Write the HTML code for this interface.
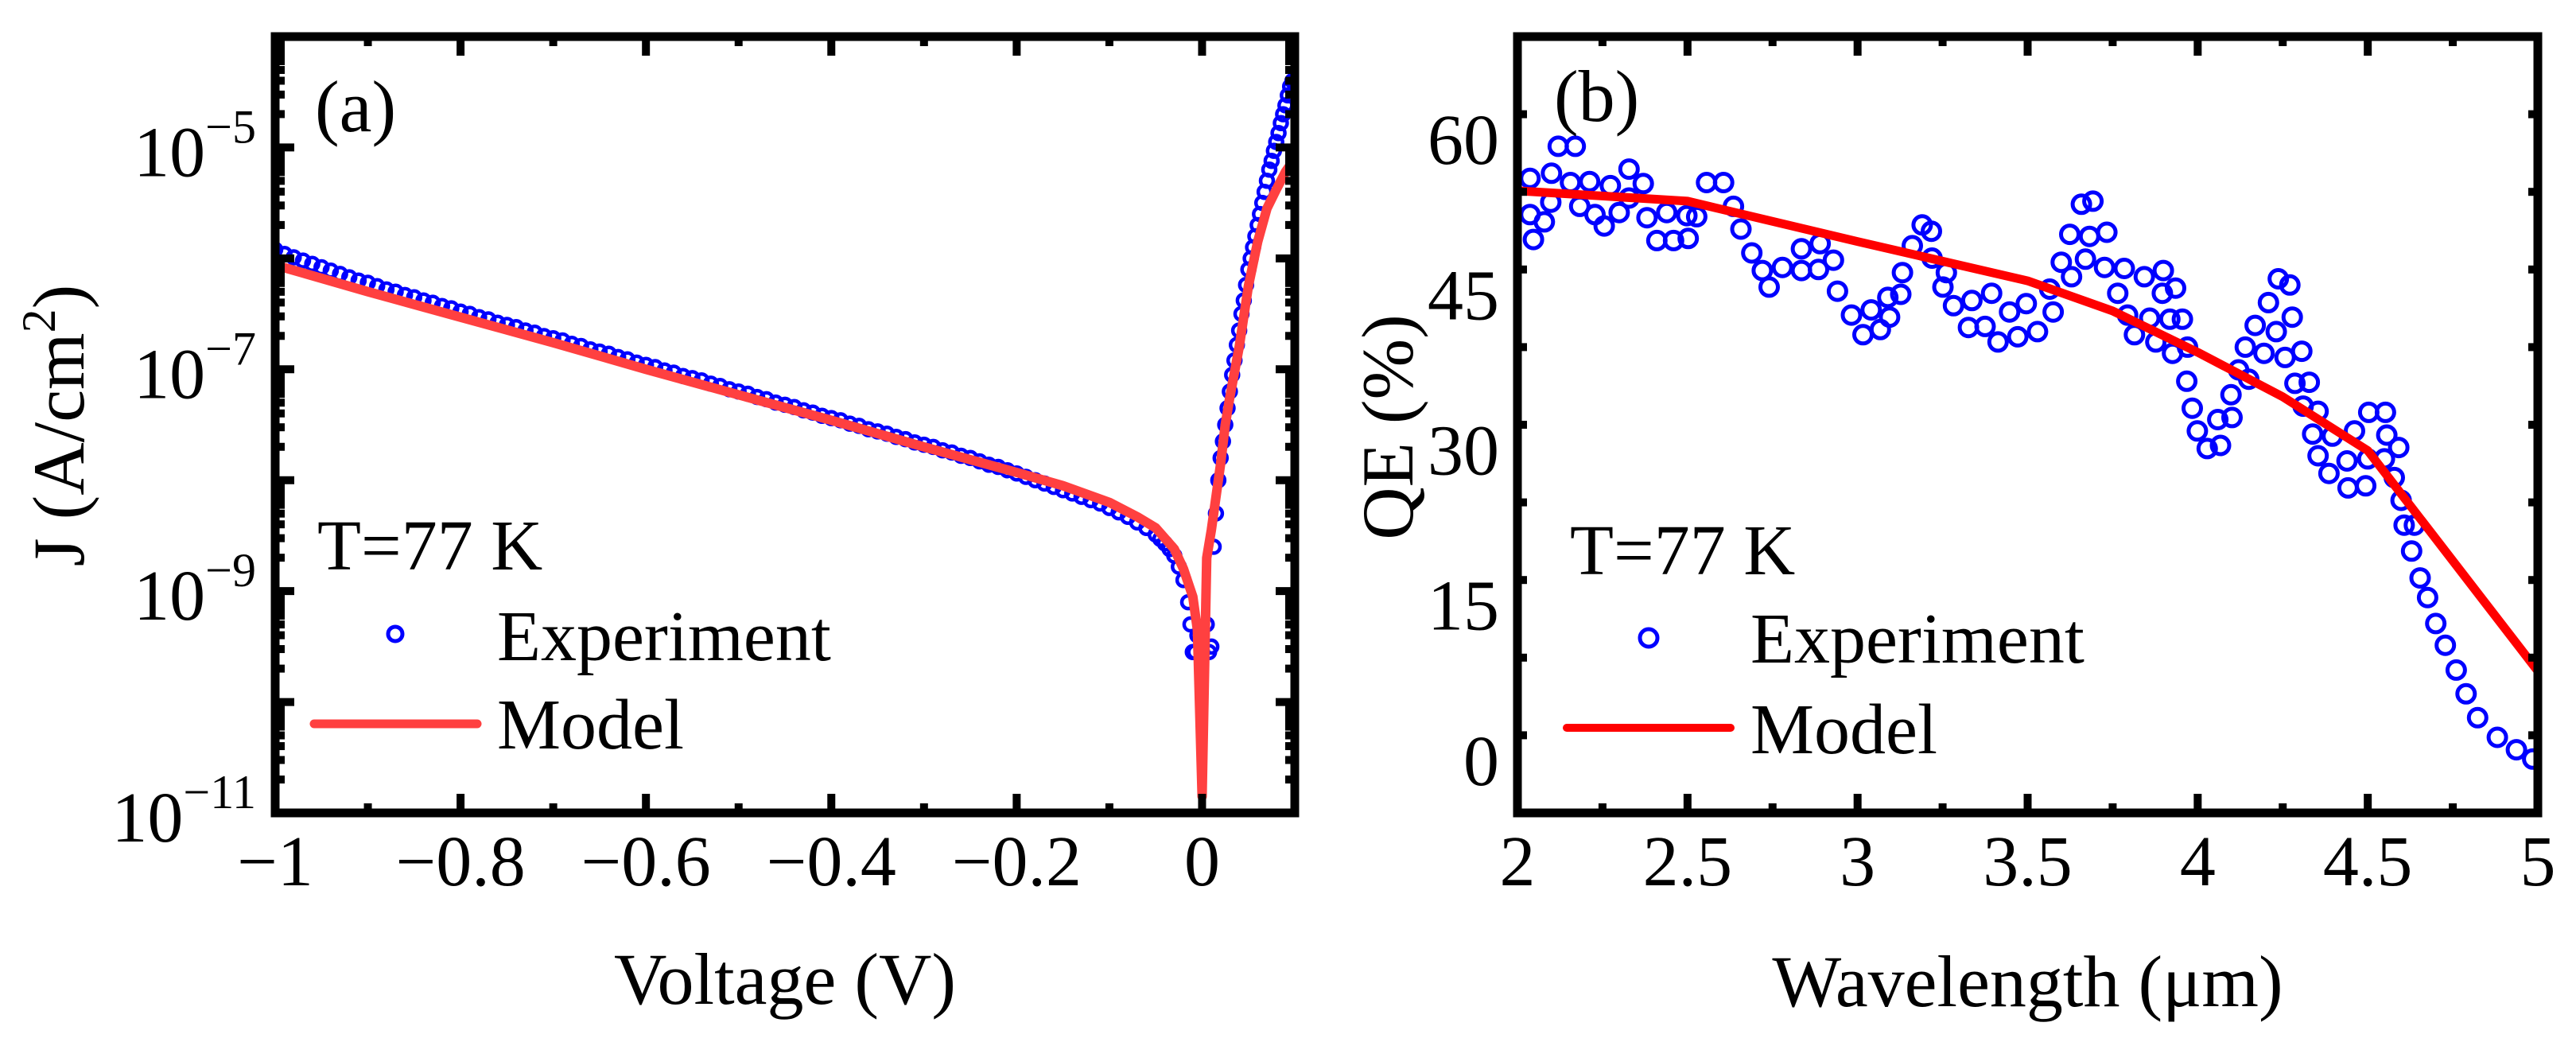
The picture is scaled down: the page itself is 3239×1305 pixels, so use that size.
<!DOCTYPE html>
<html><head><meta charset="utf-8"><style>
html,body{margin:0;padding:0;background:#fff;}
svg{display:block;}
svg text{font-family:"Liberation Serif","Times New Roman","DejaVu Serif",serif;}
</style></head><body>
<svg id="chart" width="3239" height="1305" viewBox="0 0 3239 1305" xmlns="http://www.w3.org/2000/svg" font-family="Liberation Serif, Times New Roman, serif">
<g id="pa"></g>
<g id="pb"></g>
</svg>
<script>
// ---------- Panel (a) data ----------
const aExpVoltStart = -1.0;
const aExpLogJ = [-5.92,-5.96,-5.99,-6.02,-6.05,-6.08,-6.11,-6.14,-6.17,-6.20,-6.22,
-6.25,-6.28,-6.30,-6.33,-6.35,-6.38,-6.40,-6.43,-6.45,-6.48,
-6.50,-6.53,-6.55,-6.58,-6.60,-6.62,-6.65,-6.67,-6.70,-6.72,
-6.74,-6.77,-6.79,-6.82,-6.84,-6.86,-6.89,-6.91,-6.94,-6.96,
-6.98,-7.01,-7.03,-7.06,-7.08,-7.10,-7.13,-7.15,-7.18,-7.20,
-7.22,-7.25,-7.27,-7.30,-7.32,-7.34,-7.37,-7.39,-7.42,-7.44,
-7.46,-7.49,-7.51,-7.54,-7.56,-7.58,-7.61,-7.63,-7.66,-7.68,
-7.70,-7.73,-7.75,-7.78,-7.80,-7.83,-7.86,-7.88,-7.91,-7.94,
-7.97,-8.00,-8.03,-8.06,-8.09,-8.12,-8.15,-8.18,-8.21,-8.25,
-8.29,-8.33,-8.38,-8.43,-8.49,-8.57,-8.68,-8.90,-9.55,-9.55,
-9.50,-7.80,-7.20,-6.65,-6.10,-5.70,-5.30,-4.95,-4.62,-4.40];
const aExtraV = [-0.045,-0.035,-0.025,-0.015,-0.0125,-0.0075,-0.005,0.005,0.0075,0.0125,0.015,0.0175,0.0225,0.025,0.0275,0.0325,0.035,0.0375,0.0425,0.045,0.0475,0.0525,0.055,0.0575,0.0625,0.065,0.0675,0.0725,0.075,0.0775,0.0825,0.085,0.0875,0.0925,0.095,0.0975];
const aExtraLogJ = [-8.53,-8.62,-8.78,-9.1,-9.3,-9.55,-9.4,-9.3,-9.55,-8.6,-8.3,-8.0,-7.65,-7.5,-7.35,-7.05,-6.92,-6.78,-6.5,-6.38,-6.24,-6.0,-5.9,-5.8,-5.6,-5.5,-5.4,-5.2,-5.12,-5.03,-4.87,-4.78,-4.7,-4.53,-4.45,-4.4];
const aModelV = [-1,-0.9,-0.8,-0.7,-0.6,-0.5,-0.4,-0.3,-0.2,-0.15,-0.1,-0.07,-0.05,-0.03,-0.02,-0.01,-0.005,0,0.005,0.01,0.02,0.025,0.03,0.04,0.05,0.06,0.07,0.08,0.09,0.1];
const aModelLogJ = [-6.06,-6.3,-6.53,-6.76,-7.0,-7.23,-7.46,-7.7,-7.93,-8.05,-8.2,-8.33,-8.43,-8.62,-8.8,-9.05,-9.35,-10.85,-8.7,-8.45,-7.85,-7.5,-7.25,-6.8,-6.25,-5.85,-5.55,-5.38,-5.22,-5.1];
const aXTicks = [-1,-0.8,-0.6,-0.4,-0.2,0];
const aXTickLabels = ["\u22121","\u22120.8","\u22120.6","\u22120.4","\u22120.2","0"];
const aYTickExp = [-11,-9,-7,-5];

// ---------- Panel (b) data ----------
const bExpLambda = [2.037,2.100,2.120,2.170,2.098,2.037,2.079,2.047,2.156,2.212,2.183,2.228,2.255,2.273,2.328,2.370,2.328,2.299,2.381,2.439,2.410,2.459,2.502,2.498,2.527,2.556,2.606,2.635,2.657,2.689,2.720,2.740,2.779,2.835,2.835,2.890,2.885,2.929,2.941,2.982,3.040,3.016,3.067,3.094,3.089,3.127,3.132,3.161,3.190,3.217,3.219,3.261,3.251,3.282,3.336,3.394,3.326,3.375,3.413,3.447,3.471,3.496,
3.565,3.575,3.529,3.599,3.629,3.624,3.682,3.658,3.692,3.733,3.670,3.726,3.784,3.843,3.899,3.765,3.896,3.935,3.794,3.859,3.918,3.955,3.814,3.877,3.926,3.970,3.968,3.984,3.999,4.028,4.067,4.059,4.101,4.098,4.120,4.150,4.140,4.195,4.257,4.306,4.169,4.231,4.278,4.208,4.237,4.271,4.286,4.328,4.310,4.354,4.338,4.396,4.461,4.503,4.552,4.556,4.591,4.354,4.386,4.439,4.500,4.549,4.442,4.494,4.578,4.598,4.607,4.637,4.629,4.654,4.676,
4.700,4.728,4.760,4.789,4.823,4.881,4.937,4.985];
const bExpQE = [56.3,56.8,59.4,59.4,54.0,52.8,52.1,50.4,55.9,56.0,53.6,52.8,51.7,55.6,57.2,55.8,54.4,53.0,52.5,53.0,50.3,50.3,50.5,52.7,52.6,55.9,55.9,53.6,51.4,49.1,47.4,45.8,47.7,47.4,49.5,50.0,47.5,48.4,45.4,43.1,43.6,41.2,41.7,42.9,44.8,45.1,47.2,49.8,51.8,51.2,48.6,47.2,45.8,44.0,44.5,45.2,41.9,42.0,40.5,43.4,41.0,44.2,
45.6,43.4,41.5,48.2,46.8,50.9,50.7,53.8,54.1,51.1,48.5,47.7,47.6,46.8,47.4,45.2,45.2,45.7,43.1,42.8,42.7,42.7,41.2,40.5,39.4,40.0,36.7,34.1,31.9,30.2,30.5,33.0,33.2,35.4,37.8,36.9,40.0,39.4,39.0,39.6,42.1,41.5,42.9,44.3,46.6,46.0,36.5,36.6,34.3,33.8,31.6,31.4,31.9,33.7,33.7,31.5,30.3,29.5,27.8,29.0,29.2,29.2,26.4,26.6,27.4,25.2,22.8,22.8,20.3,17.7,15.8,
13.3,11.2,8.8,6.5,4.2,2.3,1.1,0.2];
const bModelLambda = [2,2.5,3,3.5,3.75,4,4.25,4.5,5];
const bModelQE = [55.1,54.1,50.2,46.4,43.5,39.5,35.2,30,8.7];
const bXTicks = [2,2.5,3,3.5,4,4.5,5];
const bXTickLabels = ["2","2.5","3","3.5","4","4.5","5"];
const bYTicks = [0,15,30,45,60];

const NS = "http://www.w3.org/2000/svg";
const FONT = "Liberation Serif, Times New Roman, DejaVu Serif, serif";
function mk(parent, tag, attrs, text){
  const e = document.createElementNS(NS, tag);
  for (const k in attrs) e.setAttribute(k, attrs[k]);
  if (tag === 'text') e.setAttribute('font-family', FONT);
  if (text !== undefined) e.textContent = text;
  parent.appendChild(e);
  return e;
}

// ---------- Panel (a) ----------
(function(){
  const g = document.getElementById('pa');
  const L=346,R=1628,T=46,B=1022;
  const xS = v => L + (v - (-1)) / 1.1 * (R - L);
  const yS = lg => B - (lg - (-11)) / 7 * (B - T);
  const clip = mk(g,'clipPath',{id:'clipA'});
  mk(clip,'rect',{x:L,y:T,width:R-L,height:B-T});
  const data = mk(g,'g',{'clip-path':'url(#clipA)'});
  
  
  const exV = [], exL = [];
  for (let i=0;i<aExpLogJ.length;i++){ exV.push(aExpVoltStart + i*0.01); exL.push(aExpLogJ[i]); }
  for (let i=0;i<aExtraV.length;i++){ exV.push(aExtraV[i]); exL.push(aExtraLogJ[i]); }
  for (let i=0;i<exV.length;i++){
    const c = mk(data,'circle',{cx:xS(exV[i]).toFixed(1),cy:yS(exL[i]).toFixed(1),r:8,fill:'none',stroke:'#0000ff','stroke-width':4.5});
    
    
  }
  let d='';
  for (let i=0;i<aModelV.length;i++) d += (i?'L':'M')+xS(aModelV[i]).toFixed(1)+','+yS(aModelLogJ[i]).toFixed(1);
  const ml = mk(data,'path',{d:d,fill:'none',stroke:'#ff4040','stroke-width':12,'stroke-linejoin':'round','stroke-linecap':'round'});
  
  
  const tk = mk(g,'g',{stroke:'#000','stroke-width':10});
  for (let v=-1; v<=0.1001; v+=0.1){
    const major = Math.abs(Math.round(v*10)%2)===0;
    const len = major?24:12, x=xS(v);
    mk(tk,'line',{x1:x,y1:B,x2:x,y2:B-len});
    mk(tk,'line',{x1:x,y1:T,x2:x,y2:T+len});
  }
  for (let dd=-11; dd<=-4; dd++){
    for (let m=1;m<=9;m++){
      const lg = dd + Math.log10(m);
      if (lg > -4.0001) break;
      const len = m===1?24:12, y=yS(lg);
      mk(tk,'line',{x1:L,y1:y,x2:L+len,y2:y});
      mk(tk,'line',{x1:R,y1:y,x2:R-len,y2:y});
    }
  }
  const fr = mk(g,'rect',{x:L,y:T,width:R-L,height:B-T,fill:'none',stroke:'#000','stroke-width':11});
  
  
  for (let i=0;i<aXTicks.length;i++){
    const t = mk(g,'text',{x:xS(aXTicks[i]),y:1113,'font-size':90,'text-anchor':'middle'},aXTickLabels[i]);
    
    
  }
  for (let i=0;i<aYTickExp.length;i++){
    const y = yS(aYTickExp[i]);
    const t = mk(g,'text',{x:322,y:y+36,'font-size':90,'text-anchor':'end'});
    
    
    mk(t,'tspan',{},'10');
    mk(t,'tspan',{dy:-42,'font-size':60},'\u2212'+(-aYTickExp[i]));
  }
  const xt = mk(g,'text',{x:(L+R)/2,y:1262,'font-size':92,'text-anchor':'middle'},'Voltage (V)');
  
  
  const yt = mk(g,'text',{x:0,y:0,'font-size':92,'text-anchor':'middle',transform:'translate(105,535) rotate(-90)'});
  
  
  mk(yt,'tspan',{},'J (A/cm');
  mk(yt,'tspan',{dy:-36,'font-size':60},'2');
  mk(yt,'tspan',{dy:36},')');
  const pl = mk(g,'text',{x:396,y:165,'font-size':92},'(a)');
  
  
  const lg = mk(g,'g',{});
  
  
  mk(lg,'text',{x:399,y:716,'font-size':90},'T=77 K');
  mk(lg,'circle',{cx:497,cy:797,r:9,fill:'none',stroke:'#0000ff','stroke-width':5});
  mk(lg,'text',{x:625,y:830,'font-size':90},'Experiment');
  mk(lg,'line',{x1:395,y1:910,x2:600,y2:910,stroke:'#ff4040','stroke-width':11,'stroke-linecap':'round'});
  mk(lg,'text',{x:625,y:941,'font-size':90},'Model');
})();

// ---------- Panel (b) ----------
(function(){
  const g = document.getElementById('pb');
  const L=1908,R=3191,T=46,B=1022;
  const xS = v => L + (v-2)/3*(R-L);
  const yS = q => B - (q-(-5))/75*(B-T);
  const clip = mk(g,'clipPath',{id:'clipB'});
  mk(clip,'rect',{x:L,y:T,width:R-L,height:B-T});
  const data = mk(g,'g',{'clip-path':'url(#clipB)'});
  
  
  for (let i=0;i<bExpLambda.length;i++){
    const c = mk(data,'circle',{cx:xS(bExpLambda[i]).toFixed(1),cy:yS(bExpQE[i]).toFixed(1),r:11,fill:'none',stroke:'#0000ff','stroke-width':5});
    
    
  }
  let d='';
  for (let i=0;i<bModelLambda.length;i++) d += (i?'L':'M')+xS(bModelLambda[i]).toFixed(1)+','+yS(bModelQE[i]).toFixed(1);
  const ml = mk(data,'path',{d:d,fill:'none',stroke:'#ff0000','stroke-width':11,'stroke-linejoin':'round'});
  
  
  const tk = mk(g,'g',{stroke:'#000','stroke-width':10});
  for (let k=0;k<=12;k++){
    const v=2+k*0.25, len = k%2===0?24:12, x=xS(v);
    mk(tk,'line',{x1:x,y1:B,x2:x,y2:B-len});
    mk(tk,'line',{x1:x,y1:T,x2:x,y2:T+len});
  }
  for (let k=-5;k<=70;k+=7.5){
    const q = Math.round(k*10)/10;
    if (q <= -4.9 || q > 70) continue;
    const major = Math.abs(q % 15) < 0.01, len = major?24:12, y=yS(q);
    mk(tk,'line',{x1:L,y1:y,x2:L+len,y2:y});
    mk(tk,'line',{x1:R,y1:y,x2:R-len,y2:y});
  }
  const fr = mk(g,'rect',{x:L,y:T,width:R-L,height:B-T,fill:'none',stroke:'#000','stroke-width':11});
  
  
  for (let i=0;i<bXTicks.length;i++){
    const t = mk(g,'text',{x:xS(bXTicks[i]),y:1113,'font-size':90,'text-anchor':'middle'},bXTickLabels[i]);
    
    
  }
  for (let i=0;i<bYTicks.length;i++){
    const t = mk(g,'text',{x:1885,y:yS(bYTicks[i])+30,'font-size':90,'text-anchor':'end'},String(bYTicks[i]));
    
    
  }
  const xt = mk(g,'text',{x:(L+R)/2,y:1265,'font-size':92,'text-anchor':'middle'},'Wavelength (\u03bcm)');
  
  
  const yt = mk(g,'text',{x:0,y:0,'font-size':92,'text-anchor':'middle',transform:'translate(1776,537) rotate(-90)'},'QE (%)');
  
  
  const pl = mk(g,'text',{x:1954,y:152,'font-size':92},'(b)');
  
  
  const lg = mk(g,'g',{});
  
  
  mk(lg,'text',{x:1974,y:722,'font-size':90},'T=77 K');
  mk(lg,'circle',{cx:2073,cy:802,r:11,fill:'none',stroke:'#0000ff','stroke-width':5});
  mk(lg,'text',{x:2201,y:833,'font-size':90},'Experiment');
  mk(lg,'line',{x1:1970,y1:915,x2:2176,y2:915,stroke:'#ff0000','stroke-width':10,'stroke-linecap':'round'});
  mk(lg,'text',{x:2201,y:947,'font-size':90},'Model');
})();
</script>
</body></html>
